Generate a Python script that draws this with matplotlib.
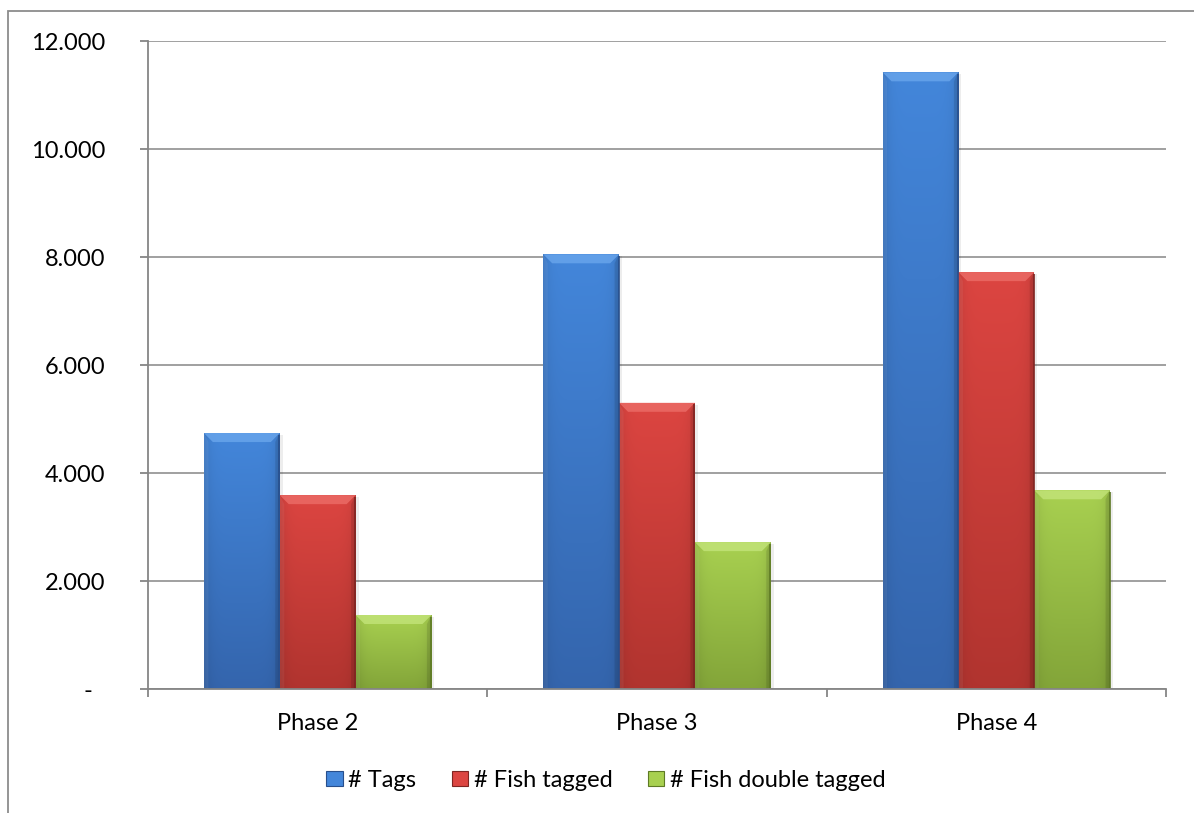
import numpy as np
import matplotlib
matplotlib.use("Agg")
import matplotlib.pyplot as plt
from matplotlib.patches import Rectangle, Polygon
from matplotlib.colors import to_rgb
from matplotlib.legend_handler import HandlerPatch

# ---- data ----
phases = ["Phase 2", "Phase 3", "Phase 4"]
series_names = ["# Tags", "# Fish tagged", "# Fish double tagged"]
tags = [4740, 8050, 11420]
fish_tagged = [3590, 5300, 7720]
fish_double_tagged = [1370, 2720, 3680]
y_ticks = [0, 2000, 4000, 6000, 8000, 10000, 12000]
y_tick_labels = ["-  ", "2.000", "4.000", "6.000", "8.000", "10.000", "12.000"]

# colour scheme per series: top, bottom, bevel, right edge
palette = [
    ("#4386da", "#3465ad", "#6aa6ec", "#284f8c"),
    ("#dc4541", "#b1342f", "#ec6d68", "#7f2522"),
    ("#a8d050", "#83a539", "#c3e47a", "#5e7a25"),
]

plt.rcParams["font.family"] = ["Lato", "DejaVu Sans"]
FS = 17
GRID = "#868686"

W, H = 1194, 813
fig = plt.figure(figsize=(W / 100, H / 100), dpi=100)
ax = fig.add_axes([148 / W, 1 - 689 / H, (1166 - 148) / W, (689 - 41) / H])

x = np.arange(len(phases))
bw = 0.2235
offsets = [-bw, 0.0, bw]
series = [tags, fish_tagged, fish_double_tagged]

ax.set_xlim(-0.5, len(phases) - 0.5)
ax.set_ylim(0, 12000)

# data units per pixel
dx = 3.0 / (1166 - 148)
dy = 12000.0 / (689 - 41)
bev = 9  # bevel size in pixels


def grad_image(top, bottom, n=64, m=32):
    t = np.linspace(0, 1, n)[:, None, None]
    u = np.linspace(-1, 1, m)[None, :, None]
    c = np.array(to_rgb(top)) * (1 - t) + np.array(to_rgb(bottom)) * t
    shade = 1 - 0.10 * np.abs(u) ** 6
    return np.clip(c * shade, 0, 1)


for vals, off, (ctop, cbot, cbev, cedge) in zip(series, offsets, palette):
    bars = ax.bar(x + off, vals, bw, color=cbot, edgecolor="none", zorder=3)
    for r in bars:
        x0, w, h = r.get_x(), r.get_width(), r.get_height()
        x1 = x0 + w
        # soft shadow on the right
        ax.add_patch(Rectangle((x1, 0), 3 * dx, h - 2 * dy, color="#000000",
                               alpha=0.07, lw=0, zorder=2.9))
        im = ax.imshow(grad_image(ctop, cbot), extent=[x0, x1, 0, h],
                       origin="upper", aspect="auto", zorder=3.1,
                       interpolation="bilinear")
        im.set_clip_path(r)
        bx, by = bev * dx, bev * dy
        # bevelled top face
        ax.add_patch(Polygon([(x0, h), (x1, h), (x1 - bx, h - by), (x0 + bx, h - by)],
                             closed=True, facecolor=cbev, edgecolor="none",
                             alpha=0.8, zorder=3.2))
        # left and right bevel sides
        ax.add_patch(Polygon([(x0, h), (x0 + bx * 0.5, h - by), (x0 + bx * 0.5, 0), (x0, 0)],
                             closed=True, facecolor="white", edgecolor="none",
                             alpha=0.06, zorder=3.2))
        ax.add_patch(Polygon([(x1, h), (x1 - bx * 0.5, h - by), (x1 - bx * 0.5, 0), (x1, 0)],
                             closed=True, facecolor="black", edgecolor="none",
                             alpha=0.10, zorder=3.2))
        ax.plot([x1 - 0.5 * dx, x1 - 0.5 * dx], [0, h - 1.5 * dy], color=cedge,
                lw=1.2, zorder=3.3, solid_capstyle="butt")

ax.set_xlim(-0.5, len(phases) - 0.5)
ax.set_ylim(0, 12000)

# axes, grid and ticks
for s in ("top", "right"):
    ax.spines[s].set_visible(False)
for s in ("left", "bottom"):
    ax.spines[s].set_color(GRID)
    ax.spines[s].set_linewidth(1.3)
    ax.spines[s].set_zorder(4)

ax.set_yticks(y_ticks)
ax.set_yticklabels(y_tick_labels, fontsize=FS)
ax.yaxis.grid(True, color=GRID, lw=1.1)
ax.set_axisbelow(True)
ax.tick_params(axis="y", length=5.8, width=1.3, color=GRID, pad=25)

ax.set_xticks(x)
ax.set_xticklabels(phases, fontsize=FS)
ax.set_xticks(np.arange(-0.5, len(phases)), minor=True)
ax.tick_params(axis="x", which="major", length=0, pad=17)
ax.tick_params(axis="x", which="minor", length=5.8, width=1.3, color=GRID)


# legend with small square keys
class SquareHandler(HandlerPatch):
    def create_artists(self, legend, orig_handle, xdescent, ydescent, width,
                       height, fontsize, trans):
        p = Rectangle((-xdescent, -ydescent), width, height,
                      facecolor=orig_handle.get_facecolor(),
                      edgecolor=orig_handle.get_edgecolor(), lw=0.8,
                      transform=trans)
        return [p]


handles = [Rectangle((0, 0), 1, 1, facecolor=c[0], edgecolor=c[3]) for c in palette]
leg = fig.legend(handles, series_names, loc="center", ncol=3, frameon=False,
                 bbox_to_anchor=(606 / W, 1 - 780 / H), bbox_transform=fig.transFigure,
                 fontsize=FS, handlelength=0.68, handleheight=0.62,
                 handletextpad=0.25, columnspacing=1.5,
                 handler_map={Rectangle: SquareHandler()})

# outer chart frame
fig.patches.append(Rectangle((8 / W, -0.2), 1.2, 1 - 11 / H + 0.2,
                             transform=fig.transFigure, fill=False,
                             edgecolor="#8c8c8c", lw=1.3, zorder=0))

fig.savefig("out.png", dpi=100)
